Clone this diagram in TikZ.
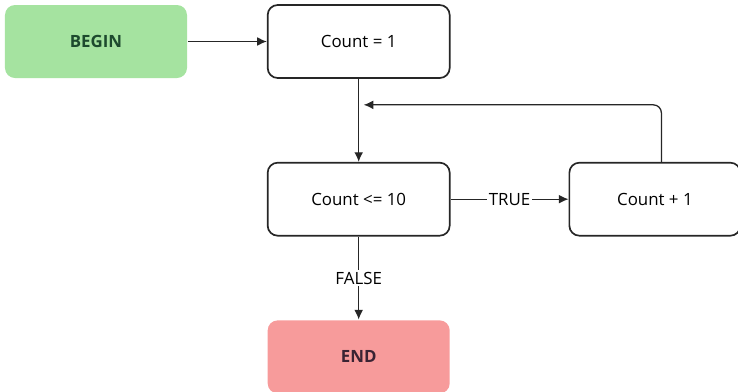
\documentclass[tikz,border=0pt]{standalone}
\usepackage{fontspec}
\setmainfont{Open Sans}
\usetikzlibrary{arrows.meta,positioning}
\definecolor{startgreen}{HTML}{A5E3A0}
\definecolor{startink}{HTML}{1D4A2E}
\definecolor{stopred}{HTML}{F79B9B}
\definecolor{stopink}{HTML}{3A2333}
\definecolor{boxline}{HTML}{262626}
\tikzset{>={Latex[length=2.4mm,width=2.2mm]}}

\begin{document}
\begin{tikzpicture}[node distance=2.075cm,
	box/.style={draw=boxline,line width=1.2pt,rounded corners=0.25cm,
		minimum width=4.55cm,minimum height=1.825cm,inner sep=0pt,
		font=\fontsize{12}{14}\selectfont},
	flow/.style={->,draw=boxline,line width=0.9pt},
	tag/.style={fill=white,inner sep=1pt,font=\fontsize{12}{14}\selectfont}]
		% frame of the picture
		\useasboundingbox (-2.4,1.0375) rectangle (16.05,-8.7375);
		% the steps
		\node[box,draw=none,fill=startgreen,text=startink] at (0,0) (begin) {\textbf{BEGIN}};
		\node[box,right=1.975cm of begin] (init) {Count = 1};
		\node[box,below=of init] (test) {Count <= 10};
		\node[box,right=2.95cm of test,minimum width=4.275cm] (inc) {Count + 1};
		\node[box,draw=none,fill=stopred,text=stopink,below=of test] (finish) {\textbf{END}};
		
		% joins
		\coordinate (merge) at ([xshift=0.125cm,yshift=-0.65cm]init.south);
		\draw[flow] (begin) -- (init);
		\draw[flow] (init) -- (test);
		\draw[flow] (test) -- node[tag] {TRUE} (inc);
		\draw[flow] (test) -- node[tag] {FALSE} (finish);
		\draw[flow,rounded corners=0.2cm] ([xshift=0.1625cm]inc.north) |- (merge);
\end{tikzpicture}
\end{document}
